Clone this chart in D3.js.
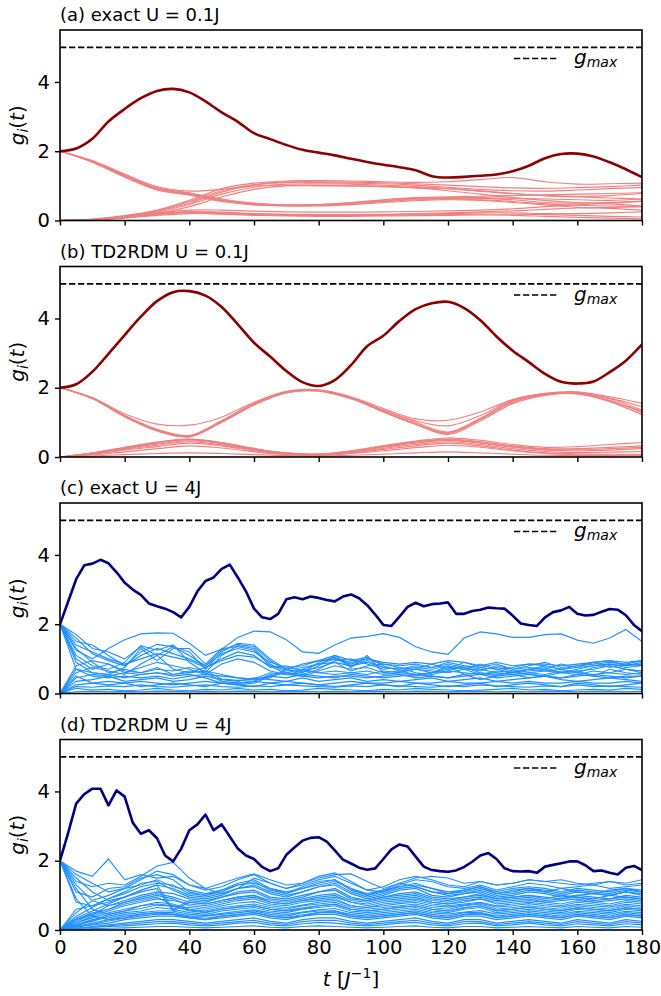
<!DOCTYPE html>
<html>
<head>
<meta charset="utf-8">
<script src="https://cdn.jsdelivr.net/npm/d3@7"></script>
<style>
  body { margin: 0; background: #fff; }
  svg { display: block; }
  text { font-family: "DejaVu Sans", sans-serif; fill: #000; }
</style>
</head>
<body>
<svg id="chart" width="661" height="996"></svg>
<script>
// time grids the series are sampled on
const T2 = d3.range(0, 180.01, 2.5);
const T5 = d3.range(0, 180.01, 5);
const T10 = d3.range(0, 180.01, 10);

const titles = ["(a) exact U = 0.1J", "(b) TD2RDM U = 0.1J", "(c) exact U = 4J", "(d) TD2RDM U = 4J"];
const yTicks = [0, 2, 4];
const xTicks = [0, 20, 40, 60, 80, 100, 120, 140, 160, 180];
const gMax = 5;

// (a) exact U=0.1J, max g_i, every 5
const darkA = [2.0,2.08,2.36,2.86,3.22,3.53,3.74,3.80,3.70,3.44,  3.12,2.85,2.52,2.35,2.18,2.04,1.96,1.88,1.78,1.69,
  1.61,1.54,1.45,1.28,1.24,1.26,1.29,1.33,1.42,1.58,  1.80,1.92,1.93,1.85,1.68,1.48,1.25];
// (a) other g_i, every 10
const thinA = [
  [2.0,1.72,1.32,0.95,0.80,0.62,0.50,0.45,0.45,0.50,0.56,0.62,0.64,0.64,0.60,0.52,0.50,0.52,0.56],
  [2.0,1.70,1.28,0.92,0.76,0.58,0.47,0.43,0.44,0.48,0.54,0.60,0.62,0.60,0.55,0.48,0.44,0.42,0.40],
  [2.0,1.68,1.25,0.88,0.73,0.55,0.45,0.42,0.42,0.46,0.52,0.57,0.60,0.58,0.52,0.45,0.38,0.35,0.30],
  [2.0,1.71,1.30,0.93,0.78,0.60,0.49,0.45,0.46,0.51,0.58,0.64,0.66,0.66,0.64,0.62,0.60,0.58,0.62],
  [2.0,1.73,1.34,0.98,0.85,0.90,1.00,1.02,1.02,1.00,0.98,0.95,0.92,0.86,0.78,0.72,0.70,0.72,0.78],
  [2.0,1.69,1.27,0.90,0.75,0.57,0.46,0.44,0.46,0.52,0.60,0.66,0.68,0.70,0.72,0.74,0.76,0.78,0.80],
  [0,0.04,0.14,0.30,0.58,0.92,1.08,1.14,1.15,1.14,1.12,1.10,1.12,1.18,1.24,1.12,1.05,1.06,1.08],
  [0,0.03,0.12,0.28,0.54,0.86,1.04,1.11,1.12,1.11,1.09,1.06,1.02,0.98,0.94,0.93,0.95,0.98,1.02],
  [0,0.03,0.12,0.27,0.50,0.82,1.02,1.10,1.10,1.08,1.06,1.02,0.96,0.90,0.86,0.85,0.88,0.92,0.95],
  [0,0.03,0.10,0.24,0.46,0.76,0.96,1.05,1.06,1.05,1.02,0.98,0.92,0.84,0.78,0.72,0.68,0.65,0.62],
  [0,0.02,0.08,0.20,0.40,0.68,0.90,1.00,1.00,1.00,0.98,0.94,0.86,0.76,0.66,0.58,0.52,0.48,0.42],
  [0,0.03,0.10,0.20,0.26,0.24,0.20,0.18,0.17,0.17,0.18,0.20,0.22,0.25,0.28,0.32,0.36,0.38,0.40],
  [0,0.02,0.08,0.17,0.22,0.20,0.17,0.15,0.14,0.14,0.15,0.16,0.17,0.18,0.18,0.17,0.15,0.12,0.10],
  [0,0.03,0.11,0.22,0.30,0.30,0.27,0.25,0.24,0.24,0.25,0.26,0.28,0.30,0.34,0.40,0.45,0.50,0.55],
  [0,0.02,0.09,0.19,0.24,0.22,0.19,0.17,0.16,0.16,0.17,0.18,0.20,0.22,0.22,0.20,0.20,0.22,0.25],
  [0,0.02,0.07,0.15,0.20,0.18,0.15,0.13,0.12,0.12,0.13,0.14,0.15,0.16,0.15,0.12,0.09,0.07,0.05]
];

// (b) TD2RDM U=0.1J
const darkB = [2.0,2.10,2.46,2.98,3.52,4.05,4.50,4.76,4.79,4.66,  4.33,3.83,3.30,2.90,2.48,2.16,2.05,2.22,2.65,3.20,
  3.50,3.93,4.27,4.44,4.48,4.30,3.95,3.48,3.07,2.74,  2.40,2.17,2.12,2.18,2.45,2.78,3.25];
const thinB = [
  [2.0,1.70,1.20,0.80,0.62,1.05,1.55,1.88,1.93,1.72,1.35,1.00,0.72,1.12,1.62,1.82,1.86,1.68,1.35],
  [2.0,1.69,1.18,0.77,0.60,1.02,1.52,1.86,1.92,1.70,1.32,0.96,0.68,1.08,1.58,1.80,1.84,1.64,1.28],
  [2.0,1.68,1.16,0.75,0.58,1.00,1.50,1.85,1.90,1.68,1.30,0.94,0.65,1.04,1.54,1.78,1.82,1.60,1.22],
  [2.0,1.72,1.25,0.95,0.92,1.15,1.58,1.90,1.94,1.74,1.40,1.10,1.06,1.30,1.66,1.84,1.88,1.74,1.55],
  [2.0,1.70,1.19,0.79,0.61,1.04,1.54,1.87,1.92,1.71,1.36,1.04,0.90,1.20,1.65,1.83,1.85,1.70,1.45],
  [2.0,1.69,1.17,0.76,0.59,1.01,1.51,1.86,1.91,1.69,1.31,0.95,0.70,1.10,1.60,1.81,1.83,1.62,1.32],
  [0,0.12,0.28,0.43,0.52,0.42,0.25,0.12,0.09,0.18,0.33,0.46,0.55,0.48,0.36,0.28,0.30,0.36,0.42],
  [0,0.11,0.26,0.40,0.50,0.40,0.23,0.11,0.08,0.17,0.31,0.44,0.52,0.44,0.32,0.24,0.24,0.28,0.32],
  [0,0.10,0.24,0.37,0.47,0.38,0.21,0.10,0.07,0.15,0.28,0.40,0.48,0.40,0.28,0.20,0.18,0.20,0.24],
  [0,0.09,0.22,0.34,0.44,0.35,0.20,0.09,0.06,0.13,0.25,0.36,0.44,0.36,0.24,0.16,0.13,0.14,0.16],
  [0,0.08,0.20,0.30,0.40,0.32,0.18,0.08,0.05,0.12,0.22,0.32,0.40,0.32,0.20,0.12,0.09,0.08,0.08],
  [0,0.03,0.07,0.10,0.12,0.10,0.07,0.04,0.03,0.05,0.08,0.12,0.15,0.12,0.08,0.05,0.04,0.04,0.05],
  [0,0.06,0.15,0.24,0.32,0.26,0.15,0.07,0.04,0.10,0.18,0.27,0.34,0.28,0.18,0.10,0.06,0.05,0.05],
  [0,0.11,0.27,0.42,0.51,0.41,0.24,0.11,0.08,0.16,0.30,0.43,0.50,0.42,0.30,0.22,0.21,0.24,0.28]
];

// (c) exact U=4J, max g_i every 2.5, others every 5
const darkC = [2.0,2.65,3.30,3.70,3.75,3.86,3.76,3.50,3.20,3.00,  2.85,2.60,2.52,2.45,2.35,2.20,2.50,2.95,3.25,3.35,
  3.60,3.72,3.35,2.95,2.45,2.20,2.15,2.30,2.72,2.78,  2.72,2.80,2.76,2.70,2.66,2.80,2.86,2.75,2.55,2.28,
  1.98,1.95,2.22,2.50,2.62,2.52,2.58,2.60,2.63,2.30,  2.30,2.38,2.42,2.48,2.46,2.45,2.25,2.02,1.98,1.95,
  2.20,2.35,2.40,2.50,2.30,2.25,2.27,2.36,2.44,2.42,  2.26,1.98,1.80];
const thinC = [
  [2.0,1.25,1.0,1.3,1.55,1.72,1.75,1.74,1.45,1.1,  1.28,1.62,1.8,1.78,1.55,1.2,1.16,1.4,1.6,1.65,  1.73,1.62,1.35,1.2,1.13,1.6,1.78,1.72,1.62,1.62,  1.7,1.72,1.54,1.45,1.6,1.85,1.5],
  [2.0,1.1,0.8,0.7,0.9,1.38,1.25,1.4,0.9,0.6,  1.1,1.38,1.3,0.85,0.6,0.55,0.7,0.95,1.0,0.85,  0.7,0.75,0.6,0.55,0.65,0.8,0.7,0.6,0.55,0.6,  0.65,0.7,0.6,0.75,0.8,0.7,0.65],
  [2.0,1.5,1.4,1.1,0.8,1.2,1.42,1.35,1.2,0.7,  1.2,1.45,1.4,1.0,0.7,0.6,0.8,1.1,0.95,1.05,  0.8,0.65,0.7,0.6,0.75,0.7,0.85,0.7,0.6,0.7,  0.75,0.6,0.7,0.8,0.85,0.75,0.8],
  [2.0,0.9,0.6,0.55,0.75,1.3,0.95,1.3,1.3,0.85,  1.3,1.35,1.25,0.8,0.55,0.6,0.9,1.05,0.75,1.1,  0.6,0.55,0.5,0.6,0.8,0.55,0.6,0.5,0.65,0.55,  0.5,0.6,0.65,0.5,0.7,0.6,0.55],
  [2.0,0.7,0.5,0.45,0.5,0.45,0.5,0.42,0.5,0.55,  0.5,0.45,0.4,0.5,0.6,0.5,0.45,0.5,0.5,0.45,  0.5,0.55,0.45,0.5,0.45,0.55,0.4,0.5,0.55,0.45,  0.5,0.45,0.55,0.5,0.45,0.5,0.5],
  [0,0.6,0.75,0.65,0.55,0.85,1.1,0.7,0.6,0.75,  1.0,1.2,1.1,0.75,0.8,0.65,0.75,0.9,0.65,0.8,  0.85,0.75,0.7,0.85,0.7,0.9,0.75,0.7,0.75,0.85,  0.8,0.7,0.8,0.9,0.75,0.85,0.8],
  [0,0.35,0.4,0.5,0.35,0.4,0.45,0.35,0.4,0.5,  0.4,0.35,0.45,0.4,0.35,0.45,0.35,0.4,0.45,0.35,  0.4,0.35,0.4,0.45,0.35,0.4,0.45,0.35,0.4,0.45,  0.5,0.4,0.35,0.4,0.45,0.4,0.35],
  [0,0.15,0.1,0.12,0.08,0.1,0.15,0.1,0.08,0.12,  0.1,0.15,0.1,0.12,0.08,0.1,0.15,0.12,0.1,0.08,  0.12,0.1,0.15,0.12,0.1,0.08,0.1,0.12,0.15,0.1,  0.12,0.08,0.1,0.12,0.1,0.15,0.12],
  [0,0.5,0.3,0.25,0.3,0.2,0.25,0.3,0.25,0.2,  0.3,0.25,0.2,0.3,0.25,0.3,0.25,0.2,0.25,0.3,  0.25,0.2,0.3,0.25,0.2,0.25,0.3,0.2,0.25,0.3,  0.25,0.2,0.3,0.25,0.2,0.25,0.3],
  [2.0,1.3,0.9,0.6,0.7,0.6,0.7,0.65,0.75,0.65,  0.42,0.38,0.4,0.45,0.7,0.85,0.95,1.1,0.8,0.95,  0.75,0.7,0.8,0.75,0.85,0.75,0.65,0.8,0.7,0.75,  0.7,0.85,0.75,0.9,0.95,0.8,0.9],
  [0,0.8,0.95,0.85,0.65,0.6,0.75,0.55,0.65,0.6,  0.35,0.3,0.35,0.55,0.6,0.7,0.6,0.65,0.6,0.55,  0.65,0.6,0.7,0.65,0.6,0.7,0.55,0.65,0.6,0.7,  0.65,0.6,0.55,0.65,0.6,0.7,0.6],
  [2.0,1.6,1.15,0.95,0.8,1.1,1.3,1.15,1.0,0.8,  1.15,1.3,1.2,0.9,0.75,0.8,0.95,1.0,0.9,1.0,  0.85,0.8,0.85,0.75,0.9,0.8,0.75,0.85,0.7,0.8,  0.9,0.75,0.8,0.85,0.9,0.85,0.95],
  [0,0.25,0.3,0.35,0.3,0.35,0.3,0.25,0.3,0.35,  0.3,0.3,0.35,0.3,0.35,0.3,0.25,0.3,0.35,0.3,  0.3,0.35,0.3,0.3,0.35,0.3,0.3,0.35,0.3,0.35,  0.3,0.3,0.35,0.3,0.3,0.35,0.3],
  [2.0,1.0,0.7,0.85,0.6,0.55,0.6,0.55,0.6,0.65,  0.55,0.45,0.42,0.6,0.55,0.65,0.6,0.55,0.6,0.65,  0.55,0.6,0.55,0.6,0.65,0.6,0.55,0.6,0.55,0.6,  0.55,0.65,0.6,0.55,0.6,0.55,0.6],
  [0,0.45,0.55,0.5,0.6,0.75,0.9,0.8,0.7,0.55,  0.85,1.0,0.9,0.65,0.55,0.5,0.65,0.8,0.7,0.75,  0.6,0.65,0.55,0.6,0.7,0.75,0.6,0.55,0.6,0.65,  0.7,0.6,0.65,0.7,0.8,0.7,0.65],
  [2.0,1.4,1.2,1.0,0.85,1.0,1.15,1.05,0.95,0.75,  0.95,1.1,1.05,0.8,0.7,0.75,0.85,0.9,0.8,0.9,  0.75,0.7,0.75,0.7,0.8,0.7,0.7,0.75,0.65,0.7,  0.8,0.7,0.75,0.8,0.85,0.8,0.85],
  [0,0.2,0.18,0.22,0.2,0.25,0.2,0.18,0.22,0.25,  0.2,0.18,0.22,0.2,0.25,0.22,0.2,0.18,0.22,0.2,  0.25,0.22,0.2,0.18,0.22,0.2,0.25,0.22,0.2,0.18,  0.22,0.2,0.25,0.2,0.22,0.2,0.18],
  [0,0.7,0.6,0.55,0.45,0.55,0.6,0.5,0.55,0.45,  0.3,0.25,0.3,0.5,0.45,0.55,0.5,0.45,0.55,0.5,  0.45,0.5,0.55,0.5,0.45,0.5,0.55,0.45,0.5,0.55,  0.5,0.45,0.5,0.55,0.5,0.45,0.5],
  [2.0,1.7,1.3,1.2,1.0,1.35,1.1,1.35,1.1,0.8,  1.25,1.42,1.35,0.95,0.65,0.7,0.85,1.0,0.85,1.0,  0.9,0.85,0.9,0.85,0.95,0.9,0.8,0.9,0.8,0.85,  0.85,0.8,0.85,0.9,0.95,0.9,0.95],
  [0,0.05,0.07,0.05,0.06,0.05,0.07,0.06,0.05,0.06,  0.05,0.07,0.06,0.05,0.06,0.07,0.05,0.06,0.05,0.07,  0.06,0.05,0.07,0.06,0.05,0.06,0.07,0.05,0.06,0.05,  0.07,0.06,0.05,0.06,0.07,0.05,0.06]
];

// (d) TD2RDM U=4J
const darkD = [2.0,2.80,3.65,3.92,4.08,4.08,3.60,4.03,3.85,3.10,  2.78,2.88,2.65,2.15,1.98,2.35,2.88,3.05,3.33,2.88,
  3.05,2.70,2.35,2.15,2.05,1.82,1.70,1.78,2.17,2.38,  2.58,2.66,2.68,2.55,2.30,2.03,1.92,1.80,1.74,1.78,
  2.05,2.33,2.47,2.41,2.12,1.83,1.73,1.70,1.68,1.72,  1.82,1.97,2.15,2.22,2.05,1.78,1.70,1.69,1.70,1.65,
  1.83,1.88,1.93,1.98,1.98,1.87,1.70,1.72,1.65,1.60,  1.80,1.85,1.73];
const thinD = [
  [2.0,1.7,1.55,2.05,1.45,1.6,1.5,1.55,1.3,1.2,  1.35,1.5,1.62,1.45,1.3,1.35,1.5,1.6,1.62,1.4,  1.2,1.35,1.5,1.55,1.5,1.35,1.4,1.3,1.35,1.45,  1.4,1.45,1.35,1.3,1.4,1.35,1.45],
  [2.0,1.4,1.25,1.35,1.3,1.55,1.85,1.95,1.5,1.2,  1.05,1.2,1.5,1.35,1.2,1.3,1.45,1.55,1.35,1.15,  1.1,1.3,1.45,1.4,1.25,1.2,1.3,1.15,1.25,1.35,  1.3,1.2,1.25,1.3,1.2,1.25,1.3],
  [2.0,1.1,0.95,1.2,1.25,1.5,1.6,1.45,1.1,1.0,  1.15,1.35,1.45,1.2,1.05,1.25,1.4,1.45,1.2,1.0,  1.15,1.35,1.25,1.1,1.05,1.15,1.25,1.05,1.15,1.2,  1.1,1.2,1.1,1.05,1.15,1.2,1.1],
  [2.0,0.8,0.7,0.9,1.1,1.35,1.4,1.15,0.95,0.9,  1.0,1.2,1.25,1.05,0.95,1.1,1.25,1.3,1.05,0.9,  1.0,1.15,1.2,1.0,0.95,1.05,1.1,0.95,1.0,1.1,  1.05,0.95,1.0,1.05,1.0,1.1,1.0],
  [2.0,1.5,1.1,0.85,0.95,1.15,1.3,0.6,0.85,0.8,  0.95,1.05,1.1,0.9,0.85,0.95,1.1,1.15,0.9,0.85,  0.95,1.0,1.05,0.9,0.85,0.95,1.0,0.9,0.95,1.0,  0.9,1.0,0.95,0.9,1.0,0.95,0.9],
  [0,0.6,0.7,0.8,0.95,1.1,1.2,0.55,0.8,0.75,  0.85,0.95,1.0,0.8,0.75,0.85,0.95,1.0,0.8,0.75,  0.85,0.9,0.95,0.8,0.75,0.85,0.9,0.8,0.85,0.9,  0.8,0.85,0.9,0.8,0.85,0.9,0.85],
  [0,0.3,0.5,0.6,0.8,0.9,1.0,0.9,0.7,0.65,  0.75,0.85,0.9,0.75,0.7,0.8,0.85,0.9,0.7,0.65,  0.75,0.8,0.85,0.75,0.7,0.75,0.8,0.7,0.75,0.8,  0.75,0.7,0.8,0.75,0.7,0.8,0.75],
  [0,0.2,0.35,0.5,0.6,0.7,0.8,0.75,0.6,0.55,  0.65,0.7,0.75,0.65,0.6,0.7,0.75,0.8,0.65,0.6,  0.65,0.7,0.75,0.65,0.6,0.7,0.75,0.6,0.65,0.7,  0.65,0.6,0.7,0.65,0.6,0.7,0.65],
  [0,0.15,0.25,0.4,0.5,0.55,0.65,0.6,0.5,0.45,  0.55,0.6,0.65,0.55,0.5,0.6,0.65,0.7,0.55,0.5,  0.55,0.6,0.65,0.55,0.5,0.6,0.65,0.5,0.55,0.6,  0.55,0.5,0.6,0.55,0.5,0.6,0.55],
  [0,0.1,0.2,0.3,0.4,0.45,0.5,0.5,0.4,0.4,  0.45,0.5,0.55,0.45,0.4,0.5,0.55,0.55,0.45,0.4,  0.45,0.5,0.55,0.45,0.4,0.5,0.5,0.4,0.45,0.5,  0.45,0.4,0.5,0.45,0.4,0.5,0.45],
  [0,0.1,0.15,0.2,0.3,0.35,0.4,0.4,0.35,0.3,  0.35,0.4,0.45,0.35,0.3,0.4,0.45,0.45,0.35,0.3,  0.35,0.4,0.45,0.35,0.3,0.4,0.4,0.3,0.35,0.4,  0.35,0.3,0.4,0.35,0.3,0.4,0.35],
  [0,0.05,0.1,0.15,0.2,0.25,0.3,0.3,0.25,0.2,  0.25,0.3,0.35,0.25,0.2,0.3,0.35,0.35,0.25,0.2,  0.25,0.3,0.35,0.25,0.2,0.3,0.3,0.2,0.25,0.3,  0.25,0.2,0.3,0.25,0.2,0.3,0.25],
  [0,0.05,0.08,0.1,0.12,0.15,0.18,0.2,0.15,0.12,  0.15,0.2,0.22,0.15,0.12,0.18,0.22,0.2,0.15,0.12,  0.15,0.2,0.22,0.15,0.12,0.18,0.2,0.12,0.15,0.2,  0.15,0.12,0.18,0.15,0.12,0.18,0.15],
  [0,0.4,0.65,0.9,1.05,1.25,1.35,1.3,1.05,1.0,  1.1,1.3,1.4,1.15,1.05,1.2,1.35,1.45,1.15,1.0,  1.1,1.25,1.35,1.2,1.05,1.1,1.2,1.05,1.1,1.2,  1.15,1.05,1.15,1.1,1.05,1.15,1.1],
  [0,0.25,0.45,0.7,0.85,1.0,1.1,1.05,0.9,0.85,  0.95,1.1,1.15,0.95,0.9,1.0,1.1,1.2,0.95,0.85,  0.95,1.05,1.1,0.95,0.9,0.95,1.05,0.9,0.95,1.0,  0.95,0.9,1.0,0.95,0.9,1.0,0.95],
  [2.0,1.2,0.6,0.45,0.55,0.7,0.75,0.7,0.55,0.5,  0.6,0.65,0.7,0.6,0.55,0.6,0.7,0.75,0.6,0.55,  0.6,0.65,0.7,0.6,0.55,0.65,0.7,0.55,0.6,0.65,  0.6,0.55,0.65,0.6,0.55,0.65,0.6],
  [2.0,0.9,0.4,0.3,0.35,0.45,0.5,0.45,0.35,0.3,  0.4,0.45,0.5,0.4,0.35,0.4,0.5,0.55,0.4,0.35,  0.4,0.45,0.5,0.4,0.35,0.45,0.5,0.35,0.4,0.45,  0.4,0.35,0.45,0.4,0.35,0.45,0.4],
  [0,0.5,0.85,1.0,1.2,1.45,1.7,1.6,1.3,1.15,  1.25,1.45,1.6,1.35,1.2,1.35,1.55,1.65,1.4,1.15,  1.25,1.45,1.55,1.45,1.3,1.25,1.4,1.3,1.35,1.45,  1.4,1.35,1.3,1.35,1.4,1.3,1.35],
  [0,0.35,0.55,0.75,0.95,1.15,1.3,1.2,1.0,0.95,  1.05,1.2,1.3,1.1,1.0,1.1,1.25,1.35,1.1,0.95,  1.05,1.2,1.25,1.1,1.0,1.05,1.15,1.0,1.05,1.15,  1.1,1.0,1.1,1.05,1.0,1.1,1.05],
  [0,0.2,0.4,0.55,0.7,0.8,0.9,0.85,0.75,0.7,  0.8,0.9,0.95,0.8,0.75,0.85,0.9,0.95,0.8,0.7,  0.8,0.85,0.9,0.8,0.75,0.8,0.9,0.75,0.8,0.85,  0.8,0.75,0.85,0.8,0.75,0.85,0.8],
  [0,0.12,0.28,0.45,0.55,0.62,0.72,0.68,0.58,0.52,  0.6,0.66,0.7,0.6,0.56,0.64,0.7,0.74,0.6,0.55,  0.6,0.66,0.7,0.6,0.55,0.64,0.7,0.56,0.6,0.66,  0.6,0.56,0.64,0.6,0.56,0.64,0.6],
  [0,0.08,0.16,0.26,0.34,0.4,0.46,0.45,0.38,0.34,  0.4,0.44,0.5,0.4,0.36,0.44,0.5,0.5,0.4,0.36,  0.4,0.45,0.5,0.4,0.36,0.44,0.46,0.36,0.4,0.45,  0.4,0.36,0.44,0.4,0.36,0.44,0.4],
  [0,0.04,0.08,0.12,0.16,0.2,0.24,0.24,0.2,0.16,  0.2,0.24,0.28,0.2,0.16,0.24,0.28,0.28,0.2,0.16,  0.2,0.24,0.28,0.2,0.16,0.24,0.24,0.16,0.2,0.24,  0.2,0.16,0.24,0.2,0.16,0.24,0.2],
  [0,0.02,0.04,0.05,0.06,0.08,0.1,0.1,0.08,0.06,  0.08,0.1,0.12,0.08,0.06,0.1,0.12,0.1,0.08,0.06,  0.08,0.1,0.12,0.08,0.06,0.1,0.1,0.06,0.08,0.1,  0.08,0.06,0.1,0.08,0.06,0.1,0.08],
  [2.0,1.3,0.85,0.7,0.8,0.95,1.05,0.95,0.8,0.75,  0.85,0.95,1.0,0.85,0.8,0.9,1.0,1.05,0.85,0.8,  0.9,0.95,1.0,0.85,0.8,0.9,0.95,0.85,0.9,0.95,  0.85,0.9,0.95,0.85,0.9,0.95,0.9],
  [2.0,1.6,1.35,1.1,1.2,1.3,1.45,1.25,1.15,1.05,  1.15,1.3,1.35,1.2,1.1,1.2,1.3,1.4,1.2,1.05,  1.15,1.25,1.3,1.2,1.1,1.15,1.25,1.1,1.2,1.25,  1.2,1.1,1.2,1.15,1.1,1.2,1.15],
  [0,0.3,0.45,0.6,0.75,0.85,0.95,0.7,0.65,0.6,  0.7,0.78,0.82,0.7,0.65,0.72,0.8,0.85,0.7,0.65,  0.7,0.76,0.8,0.7,0.66,0.72,0.78,0.66,0.7,0.76,  0.7,0.66,0.74,0.7,0.66,0.74,0.7],
  [0,0.15,0.3,0.35,0.45,0.5,0.55,0.55,0.45,0.42,  0.48,0.54,0.58,0.5,0.45,0.52,0.58,0.62,0.5,0.45,  0.5,0.55,0.6,0.5,0.46,0.52,0.56,0.46,0.5,0.55,  0.5,0.46,0.54,0.5,0.46,0.54,0.5]
];

const panels = [
  { title: titles[0], dark: darkA, darkT: T5, thin: thinA, thinT: T10, dc: "#8b0000", tc: "#f08080", smooth: true },
  { title: titles[1], dark: darkB, darkT: T5, thin: thinB, thinT: T10, dc: "#8b0000", tc: "#f08080", smooth: true },
  { title: titles[2], dark: darkC, darkT: T2, thin: thinC, thinT: T5, dc: "#000080", tc: "#1e90ff", smooth: false },
  { title: titles[3], dark: darkD, darkT: T2, thin: thinD, thinT: T5, dc: "#000080", tc: "#1e90ff", smooth: false }
];

const left = 60, right = 642, top0 = 30, ph = 190.5, step = 236.5;
const svg = d3.select("#chart");
const x = d3.scaleLinear().domain([0, 180]).range([left, right]);

panels.forEach((p, i) => {
  const top = top0 + i * step;
  const y = d3.scaleLinear().domain([0, 5.5]).range([top + ph, top]);
  const g = svg.append("g");

  g.append("clipPath").attr("id", "clip" + i)
    .append("rect").attr("x", left).attr("y", top).attr("width", right - left).attr("height", ph);

  const plot = g.append("g").attr("clip-path", `url(#clip${i})`);
  const mk = ts => d3.line()
    .x((v, k) => x(ts[k]))
    .y(v => y(v))
    .curve(p.smooth ? d3.curveCatmullRom : d3.curveLinear);

  plot.selectAll("path.thin").data(p.thin).join("path")
    .attr("class", "thin")
    .attr("d", mk(p.thinT))
    .attr("fill", "none")
    .attr("stroke", p.tc)
    .attr("stroke-width", 1.15);

  plot.append("path").datum(p.dark)
    .attr("d", mk(p.darkT))
    .attr("fill", "none")
    .attr("stroke", p.dc)
    .attr("stroke-width", 2.6)
    .attr("stroke-linejoin", "round");

  plot.append("line")
    .attr("x1", left).attr("x2", right)
    .attr("y1", y(gMax)).attr("y2", y(gMax))
    .attr("stroke", "#000").attr("stroke-width", 1.7)
    .attr("stroke-dasharray", "6.3,2.7");

  // legend
  g.append("line")
    .attr("x1", 514).attr("x2", 557)
    .attr("y1", top + 28.5).attr("y2", top + 28.5)
    .attr("stroke", "#000").attr("stroke-width", 1.7)
    .attr("stroke-dasharray", "6.3,2.7");
  const lt = g.append("text").attr("x", 574).attr("y", top + 34);
  lt.append("tspan").attr("font-style", "italic").attr("font-size", 20).text("g");
  lt.append("tspan").attr("font-style", "italic").attr("font-size", 14).attr("dy", 3).text("max");

  // axes
  const ya = d3.axisLeft(y).tickValues(yTicks).tickSize(5).tickPadding(5).tickFormat(d3.format("d"));
  const yg = g.append("g").attr("transform", `translate(${left},0)`).call(ya);
  const xa = d3.axisBottom(x).tickValues(xTicks).tickSize(5).tickPadding(5)
    .tickFormat(i === panels.length - 1 ? d3.format("d") : () => "");
  const xg = g.append("g").attr("transform", `translate(0,${top + ph})`).call(xa);
  [yg, xg].forEach(a => {
    a.select(".domain").remove();
    a.selectAll(".tick line").attr("stroke", "#000").attr("stroke-width", 1.4);
    a.selectAll(".tick text").attr("font-size", 19.5).attr("font-family", "DejaVu Sans").attr("fill", "#000");
  });

  g.append("rect")
    .attr("x", left).attr("y", top).attr("width", right - left).attr("height", ph)
    .attr("fill", "none").attr("stroke", "#000").attr("stroke-width", 1.6);

  g.append("text").attr("x", left).attr("y", top - 9)
    .attr("font-size", 18).text(p.title);

  const yl = g.append("text")
    .attr("transform", `translate(24,${top + ph / 2}) rotate(-90)`)
    .attr("text-anchor", "middle").attr("font-size", 20);
  yl.append("tspan").attr("font-style", "italic").text("g");
  yl.append("tspan").attr("font-style", "italic").attr("font-size", 14).attr("dy", 4).text("i");
  yl.append("tspan").attr("dy", -4).text("(");
  yl.append("tspan").attr("font-style", "italic").text("t");
  yl.append("tspan").text(")");
});

const xl = svg.append("text").attr("x", 351).attr("y", 986)
  .attr("text-anchor", "middle").attr("font-size", 20);
xl.append("tspan").attr("font-style", "italic").text("t");
xl.append("tspan").text(" [");
xl.append("tspan").attr("font-style", "italic").text("J");
xl.append("tspan").attr("font-size", 14).attr("dy", -8).text("\u22121");
xl.append("tspan").attr("dy", 8).text("]");
</script>
</body>
</html>
